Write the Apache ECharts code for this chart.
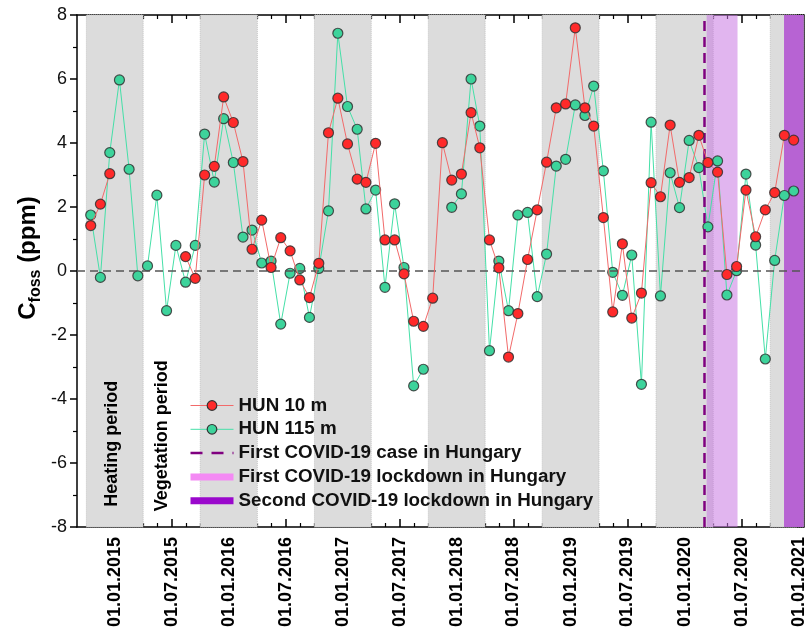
<!DOCTYPE html>
<html>
<head>
<meta charset="utf-8">
<script src="https://cdn.jsdelivr.net/npm/echarts@6/dist/echarts.min.js"></script>
<style>
html,body{margin:0;padding:0;background:#fff;}
#chart{width:808px;height:637px;}
</style>
</head>
<body>
<div id="chart"></div>
<script>
// ---- Data (monthly samples, mid-month) ----
const dates = [
 '2014-10-15','2014-11-15','2014-12-15',
 '2015-01-15','2015-02-15','2015-03-15','2015-04-15','2015-05-15','2015-06-15','2015-07-15','2015-08-15','2015-09-15','2015-10-15','2015-11-15','2015-12-15',
 '2016-01-15','2016-02-15','2016-03-15','2016-04-15','2016-05-15','2016-06-15','2016-07-15','2016-08-15','2016-09-15','2016-10-15','2016-11-15','2016-12-15',
 '2017-01-15','2017-02-15','2017-03-15','2017-04-15','2017-05-15','2017-06-15','2017-07-15','2017-08-15','2017-09-15','2017-10-15','2017-11-15','2017-12-15',
 '2018-01-15','2018-02-15','2018-03-15','2018-04-15','2018-05-15','2018-06-15','2018-07-15','2018-08-15','2018-09-15','2018-10-15','2018-11-15','2018-12-15',
 '2019-01-15','2019-02-15','2019-03-15','2019-04-15','2019-05-15','2019-06-15','2019-07-15','2019-08-15','2019-09-15','2019-10-15','2019-11-15','2019-12-15',
 '2020-01-15','2020-02-15','2020-03-15','2020-04-15','2020-05-15','2020-06-15','2020-07-15','2020-08-15','2020-09-15','2020-10-15','2020-11-15','2020-12-15'
];
const hun10 = [
 1.42, 2.09, 3.04,
 null, null, null, null, null, null, null, 0.45, -0.23, 3.0, 3.27, 5.44,
 4.64, 3.42, 0.68, 1.59, 0.11, 1.04, 0.63, -0.28, -0.83, 0.24, 4.32, 5.4,
 3.97, 2.87, 2.77, 3.99, 0.97, 0.97, -0.09, -1.57, -1.73, -0.85, 4.01, 2.84,
 3.03, 4.95, 3.85, 0.97, 0.1, -2.69, -1.33, 0.36, 1.91, 3.4, 5.1, 5.22,
 7.6, 5.1, 4.53, 1.67, -1.28, 0.85, -1.47, -0.69, 2.76, 2.32, 4.56, 2.77,
 2.92, 4.24, 3.39, 3.09, -0.11, 0.14, 2.53, 1.07, 1.91, 2.45, 4.24, 4.09
];
const hun115 = [
 1.75, -0.2, 3.7,
 5.97, 3.18, -0.15, 0.16, 2.37, -1.24, 0.8, -0.35, 0.8, 4.28, 2.78, 4.76,
 3.39, 1.06, 1.28, 0.25, 0.31, -1.66, -0.07, 0.08, -1.45, 0.08, 1.88, 7.43,
 5.14, 4.43, 1.94, 2.53, -0.51, 2.1, 0.11, -3.59, -3.07, null, null, 1.99,
 2.41, 6.0, 4.53, -2.49, 0.31, -1.24, 1.75, 1.83, -0.8, 0.53, 3.28, 3.49,
 5.19, 4.86, 5.78, 3.13, -0.04, -0.76, 0.5, -3.54, 4.65, -0.78, 3.07, 1.98,
 4.08, 3.23, 1.38, 3.44, -0.75, 0.01, 3.03, 0.81, -2.75, 0.33, 2.36, 2.5
];
// heating periods (grey bands)
const heatStart = ['2014-10-01','2015-10-01','2016-10-01','2017-10-01','2018-10-01','2019-10-01','2020-10-01'];
const heatEnd   = ['2015-04-01','2016-04-01','2017-04-01','2018-04-01','2019-04-01','2020-04-01','2021-04-01'];
const firstCase = '2020-03-04';
const firstLockdown = ['2020-03-11','2020-06-18'];
const secondLockdown = ['2020-11-14','2021-04-01'];
// axis
const xMin = '2014-09-01', xMax = '2021-01-16';
const majorTicks = ['2015-01-01','2015-07-01','2016-01-01','2016-07-01','2017-01-01','2017-07-01','2018-01-01','2018-07-01','2019-01-01','2019-07-01','2020-01-01','2020-07-01','2021-01-01'];
const annotations = [
 {name:'Heating period', date:'2014-12-22', y:-5.4},
 {name:'Vegetation period', date:'2015-05-31', y:-5.15}
];

// ---- helpers ----
function ts(s){ const p=s.split('-').map(Number); return Date.UTC(p[0],p[1]-1,p[2]); }
function pad(n){ return (n<10?'0':'')+n; }
const majorTs = majorTicks.map(ts);
// minor ticks: split each half-year into 4 parts (also before first major)
const minorTs = [];
(function(){
  const m = majorTs;
  const step0 = (m[1]-m[0])/4;
  for (let k=1;k<4;k++){ const v=m[0]-k*step0; if (v>ts(xMin)) minorTs.push(v); }
  for (let i=0;i<m.length-1;i++){
    const st=(m[i+1]-m[i])/4;
    for (let k=1;k<4;k++) minorTs.push(m[i]+k*st);
  }
})();

const FONT = 'Arial, "Liberation Sans", sans-serif';
const chart = echarts.init(document.getElementById('chart'));

const xBase = {
  type:'value', min:ts(xMin), max:ts(xMax), gridIndex:0,
  splitLine:{show:false}, minorTick:{show:false}
};

const option = {
  animation:false,
  backgroundColor:'#fff',
  grid:{left:77, right:3, top:15, bottom:110},
  xAxis:[
    Object.assign({}, xBase, {
      position:'bottom',
      axisLine:{show:true, onZero:false, lineStyle:{color:'#000', width:1.5}},
      axisTick:{show:true, inside:true, length:8, customValues:majorTs, lineStyle:{color:'#000', width:1.5}},
      axisLabel:{show:true, customValues:majorTs, rotate:90, margin:10, fontSize:18, fontWeight:'bold', color:'#000', fontFamily:FONT,
        formatter:function(v){ const d=new Date(v); return pad(d.getUTCDate())+'.'+pad(d.getUTCMonth()+1)+'.'+d.getUTCFullYear(); }}
    }),
    Object.assign({}, xBase, {
      position:'bottom',
      axisLine:{show:false, onZero:false},
      axisTick:{show:true, inside:true, length:4, customValues:minorTs, lineStyle:{color:'#000', width:1.2}},
      axisLabel:{show:false}
    }),
    Object.assign({}, xBase, {
      position:'top',
      axisLine:{show:true, onZero:false, lineStyle:{color:'#000', width:1.5}},
      axisTick:{show:true, inside:true, length:8, customValues:majorTs, lineStyle:{color:'#000', width:1.5}},
      axisLabel:{show:false}
    }),
    Object.assign({}, xBase, {
      position:'top',
      axisLine:{show:false, onZero:false},
      axisTick:{show:true, inside:true, length:4, customValues:minorTs, lineStyle:{color:'#000', width:1.2}},
      axisLabel:{show:false}
    })
  ],
  yAxis:[
    {
      type:'value', min:-8, max:8, interval:2, position:'left',
      name:'{a|C}{b|foss}{a| (ppm)}', nameLocation:'middle', nameGap:33, nameRotate:90, nameMoveOverlap:false,
      nameTextStyle:{ padding:[0,0,0,26], rich:{
        a:{fontSize:24, fontWeight:'bold', fontFamily:FONT, color:'#000'},
        b:{fontSize:16, fontWeight:'bold', fontFamily:FONT, color:'#000', padding:[16,0,0,0]}
      }},
      axisLine:{show:true, onZero:false, lineStyle:{color:'#000', width:1.5}},
      axisTick:{show:true, inside:false, length:7, lineStyle:{color:'#000', width:1.5}},
      minorTick:{show:true, splitNumber:2, length:4, lineStyle:{color:'#000', width:1.2}},
      axisLabel:{show:true, margin:10, fontSize:18, color:'#111', fontFamily:FONT},
      splitLine:{show:false}
    },
    {
      type:'value', min:-8, max:8, interval:2, position:'right',
      axisLine:{show:true, onZero:false, lineStyle:{color:'#000', width:1.5}},
      axisTick:{show:true, inside:true, length:7, lineStyle:{color:'#000', width:1.5}},
      minorTick:{show:true, splitNumber:2, length:4, lineStyle:{color:'#000', width:1.2}},
      axisLabel:{show:false},
      splitLine:{show:false}
    }
  ],
  legend:{
    orient:'vertical', left:182, top:391, itemGap:4.8, itemWidth:43, itemHeight:12, itemTextGap:4,
    textStyle:{fontSize:18.8, fontWeight:'bold', color:'#111', fontFamily:FONT},
    selectedMode:false,
    data:[
      {name:'HUN 10 m', lineStyle:{width:1}, itemStyle:{borderWidth:1.2, borderColor:'#333'}},
      {name:'HUN 115 m', lineStyle:{width:1}, itemStyle:{borderWidth:1.2, borderColor:'#333'}},
      {name:'First COVID-19 case in Hungary', lineStyle:{width:2.5}, itemStyle:{opacity:0, borderWidth:0}},
      {name:'First COVID-19 lockdown in Hungary', lineStyle:{width:7}, itemStyle:{opacity:0, borderWidth:0}},
      {name:'Second COVID-19 lockdown in Hungary', lineStyle:{width:7}, itemStyle:{opacity:0, borderWidth:0}}
    ]
  },
  series:[
    {
      name:'bands', type:'line', data:[], z:1, silent:true,
      markArea:{
        silent:true,
        itemStyle:{color:'#dcdcdc', borderColor:'#c4c4c4', borderWidth:1, borderType:'dotted'},
        data: heatStart.map((s,i)=>[{xAxis:ts(s)},{xAxis:ts(heatEnd[i])}])
      },
      markLine:{
        silent:true, symbol:['none','none'], label:{show:false},
        lineStyle:{color:'#555', width:1.5, type:[8,5]},
        data:[{yAxis:0}]
      },
      markPoint:{
        silent:true, symbol:'circle', symbolSize:0,
        label:{show:true, position:'inside', rotate:90, fontSize:18, fontWeight:'bold', color:'#000', fontFamily:FONT,
          formatter:function(p){return p.name;}},
        data: annotations.map(a=>({name:a.name, coord:[ts(a.date), a.y]}))
      }
    },
    {
      name:'First COVID-19 lockdown in Hungary', type:'line', data:[], z:2, symbol:'none',
      lineStyle:{color:'#f48af4', width:7}, itemStyle:{color:'#f48af4'},
      markArea:{ silent:true, itemStyle:{color:'rgba(200,120,225,0.55)'},
        data:[[{xAxis:ts(firstLockdown[0])},{xAxis:ts(firstLockdown[1])}]] }
    },
    {
      name:'Second COVID-19 lockdown in Hungary', type:'line', data:[], z:2, symbol:'none',
      lineStyle:{color:'#9a08cc', width:7}, itemStyle:{color:'#9a08cc'},
      markArea:{ silent:true, itemStyle:{color:'rgba(153,0,204,0.55)'},
        data:[[{xAxis:ts(secondLockdown[0])},{xAxis:ts(secondLockdown[1])}]] }
    },
    {
      name:'First COVID-19 case in Hungary', type:'line', data:[], z:3, symbol:'none',
      lineStyle:{color:'#800080', width:2.5, type:[12,9]}, itemStyle:{color:'#800080'},
      markLine:{ silent:true, symbol:['none','none'], label:{show:false},
        lineStyle:{color:'#800080', width:2.5, type:[10,6]},
        data:[{xAxis:ts(firstCase)}] }
    },
    {
      name:'HUN 115 m', type:'line', z:4,
      data: dates.map((d,i)=>[ts(d), hun115[i]]),
      symbol:'circle', symbolSize:10, showAllSymbol:true, connectNulls:false,
      lineStyle:{color:'#45e0a8', width:1},
      itemStyle:{color:'#3dd39b', borderColor:'rgba(50,50,50,0.85)', borderWidth:1.2}
    },
    {
      name:'HUN 10 m', type:'line', z:5,
      data: dates.map((d,i)=>[ts(d), hun10[i]]),
      symbol:'circle', symbolSize:10, showAllSymbol:true, connectNulls:false,
      lineStyle:{color:'#f26a6a', width:1},
      itemStyle:{color:'#ff2a2a', borderColor:'rgba(50,50,50,0.85)', borderWidth:1.2}
    }
  ]
};
chart.setOption(option);
</script>
</body>
</html>
